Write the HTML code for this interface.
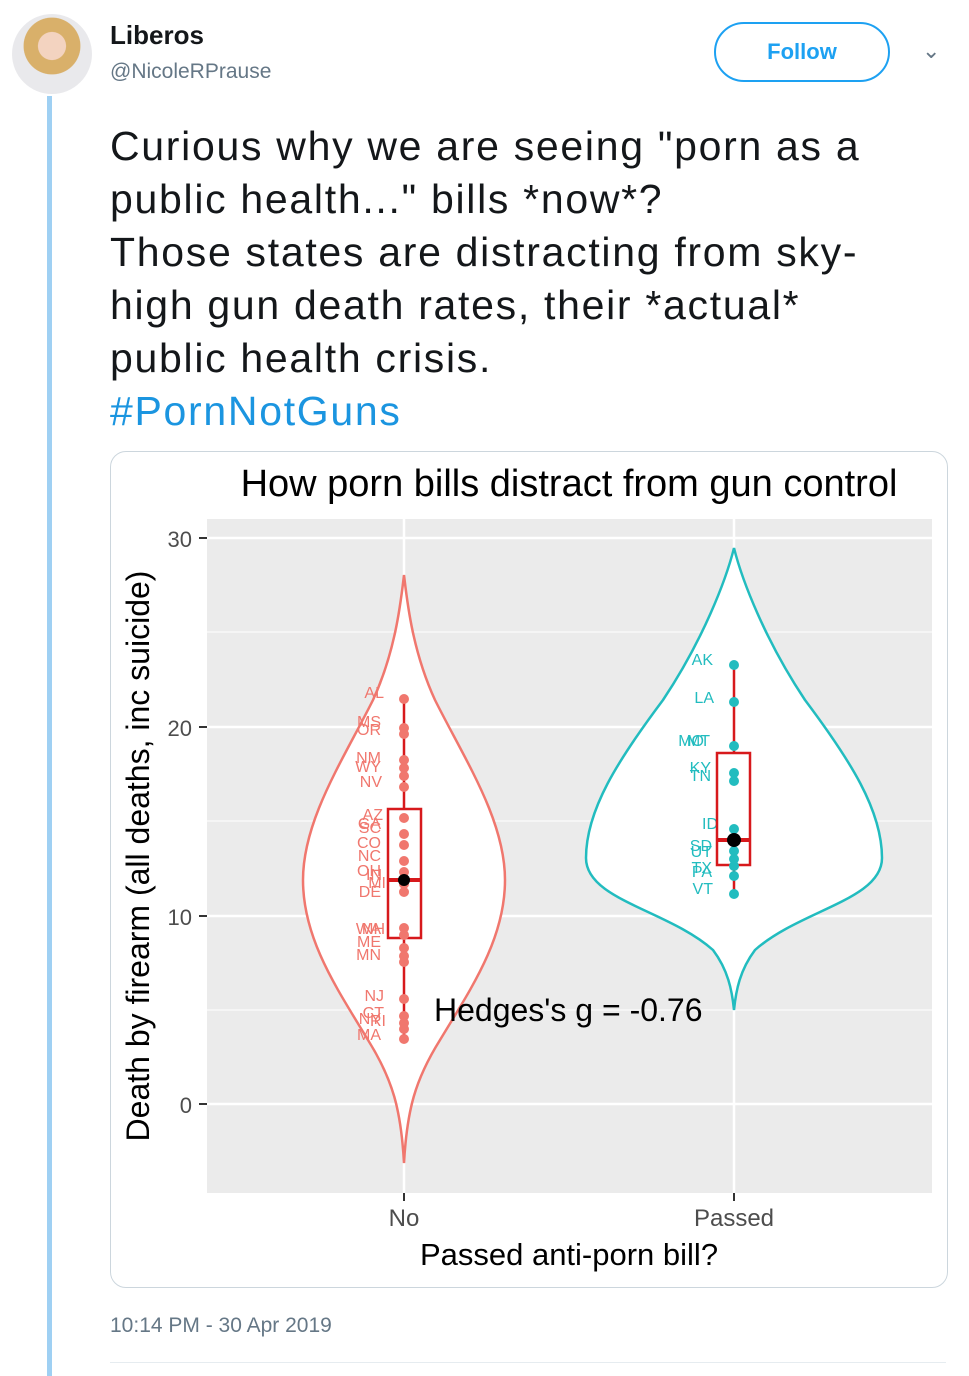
<!DOCTYPE html>
<html><head><meta charset="utf-8"><style>
body{margin:0;width:969px;height:1374px;background:#fff;font-family:"Liberation Sans",sans-serif;position:relative;overflow:hidden}
.a{position:absolute}
.tw{left:110px;font-size:41px;color:#14171a;line-height:53px;top:120px;letter-spacing:1.7px}
</style></head><body>
<div class="a" style="left:47px;top:96px;width:5px;height:1280px;background:#9fd0f3"></div>
<div class="a" style="left:12px;top:14px;width:80px;height:80px;border-radius:50%;background:radial-gradient(circle at 50% 40%,#f3d3c0 0 22%,#d9b06a 23% 45%,#e9e9ec 46%)"></div>
<div class="a" style="left:110px;top:20px;font-size:26px;font-weight:bold;color:#14171a">Liberos</div>
<div class="a" style="left:110px;top:60px;font-size:21px;color:#657786">@NicoleRPrause</div>
<div class="a" style="left:714px;top:22px;width:172px;height:56px;border:2px solid #1da1f2;border-radius:30px;color:#1da1f2;font-weight:bold;font-size:22px;text-align:center;line-height:56px">Follow</div>
<div class="a" style="left:922px;top:38px;font-size:22px;color:#657786">&#8964;</div>
<div class="a tw">Curious why we are seeing "porn as a<br>public health..." bills *now*?<br>Those states are distracting from sky-<br>high gun death rates, their *actual*<br>public health crisis.<br><span style="color:#1b95e0">#PornNotGuns</span></div>
<div class="a" style="left:110px;top:451px;width:836px;height:835px;border:1px solid #ccd6dd;border-radius:16px"></div>
<svg class="a" style="left:0;top:0" width="969" height="1374">
<text x="569" y="496" font-size="38" text-anchor="middle" fill="#000">How porn bills distract from gun control</text>
<rect x="207" y="519" width="725" height="674" fill="#ebebeb"/>
<g stroke="#fff" stroke-width="1"><line x1="207" x2="932" y1="632" y2="632"/><line x1="207" x2="932" y1="821" y2="821"/><line x1="207" x2="932" y1="1010" y2="1010"/></g>
<g stroke="#fff" stroke-width="2.5"><line x1="207" x2="932" y1="538" y2="538"/><line x1="207" x2="932" y1="727" y2="727"/><line x1="207" x2="932" y1="916" y2="916"/><line x1="207" x2="932" y1="1104" y2="1104"/><line x1="404" x2="404" y1="519" y2="1193"/><line x1="734" x2="734" y1="519" y2="1193"/></g>
<path d="M404,575 C407,600 412,650 435,700 C465,760 505,820 505,880 C505,940 470,990 440,1040 C415,1080 407,1110 404,1163 C401,1110 393,1080 368,1040 C338,990 303,940 303,880 C303,820 343,760 373,700 C396,650 401,600 404,575Z" fill="#fff" stroke="#f0776e" stroke-width="2.5"/>
<path d="M734,548 C742,580 765,640 805,700 C850,760 882,810 882,858 C882,900 800,910 755,950 C740,970 736,990 734,1010 C732,990 728,970 713,950 C668,910 586,900 586,858 C586,810 618,760 663,700 C703,640 726,580 734,548Z" fill="#fff" stroke="#22bcbf" stroke-width="2.5"/>
<g fill="#f0776e" font-size="16" text-anchor="end">
<text x="384" y="698">AL</text><text x="381" y="727">MS</text><text x="381" y="735">OR</text><text x="381" y="763">NM</text><text x="381" y="772">WY</text><text x="382" y="787">NV</text><text x="383" y="820">AZ</text><text x="381" y="829">GA</text><text x="381" y="833">SC</text><text x="381" y="848">CO</text><text x="381" y="861">NC</text><text x="381" y="876">OH</text><text x="386" y="888">MI</text><text x="382" y="880">IN</text><text x="381" y="897">DE</text><text x="385" y="934">NH</text><text x="381" y="934">WA</text><text x="381" y="947">ME</text><text x="381" y="960">MN</text><text x="384" y="1001">NJ</text><text x="384" y="1018">CT</text><text x="381" y="1024">NY</text><text x="386" y="1026">RI</text><text x="381" y="1040">MA</text>
</g>
<g fill="#22bcbf" font-size="16" text-anchor="end">
<text x="713" y="665">AK</text><text x="714" y="703">LA</text><text x="710" y="746">MT</text><text x="704" y="746">MO</text><text x="711" y="773">KY</text><text x="711" y="781">TN</text><text x="718" y="829">ID</text><text x="712" y="851">SD</text><text x="712" y="857">UT</text><text x="712" y="873">TX</text><text x="712" y="877">PA</text><text x="713" y="894">VT</text>
</g>
<g stroke="#d7191c" stroke-width="2.5" fill="none">
<line x1="404" x2="404" y1="699" y2="809"/><line x1="404" x2="404" y1="938" y2="1040"/>
<rect x="388" y="809" width="33" height="129"/><line x1="388" x2="421" y1="880" y2="880" stroke-width="4"/>
<line x1="734" x2="734" y1="665" y2="753"/><line x1="734" x2="734" y1="865" y2="895"/>
<rect x="717" y="753" width="33" height="112"/><line x1="717" x2="750" y1="840" y2="840" stroke-width="4"/>
</g>
<g fill="#f0776e">
<circle cx="404" cy="699" r="5"/><circle cx="404" cy="728" r="5"/><circle cx="404" cy="734" r="5"/><circle cx="404" cy="760" r="5"/><circle cx="404" cy="768" r="5"/><circle cx="404" cy="776" r="5"/><circle cx="404" cy="787" r="5"/><circle cx="404" cy="818" r="5"/><circle cx="404" cy="834" r="5"/><circle cx="404" cy="845" r="5"/><circle cx="404" cy="861" r="5"/><circle cx="404" cy="872" r="5"/><circle cx="404" cy="884" r="5"/><circle cx="404" cy="892" r="5"/><circle cx="404" cy="928" r="5"/><circle cx="404" cy="935" r="5"/><circle cx="404" cy="948" r="5"/><circle cx="404" cy="956" r="5"/><circle cx="404" cy="962" r="5"/><circle cx="404" cy="999" r="5"/><circle cx="404" cy="1016" r="5"/><circle cx="404" cy="1023" r="5"/><circle cx="404" cy="1029" r="5"/><circle cx="404" cy="1039" r="5"/>
</g>
<circle cx="404" cy="880" r="6" fill="#000"/>
<g fill="#22bcbf">
<circle cx="734" cy="665" r="5"/><circle cx="734" cy="702" r="5"/><circle cx="734" cy="746" r="5"/><circle cx="734" cy="773" r="5"/><circle cx="734" cy="781" r="5"/><circle cx="734" cy="829" r="5"/><circle cx="734" cy="851" r="5"/><circle cx="734" cy="859" r="5"/><circle cx="734" cy="866" r="5"/><circle cx="734" cy="876" r="5"/><circle cx="734" cy="894" r="5"/>
</g>
<circle cx="734" cy="840" r="7" fill="#000"/>
<text x="434" y="1021" font-size="32" fill="#000">Hedges's g = -0.76</text>
<g font-size="22" fill="#4d4d4d" text-anchor="end"><text x="192" y="547">30</text><text x="192" y="736">20</text><text x="192" y="925">10</text><text x="192" y="1113">0</text></g>
<g stroke="#333" stroke-width="2"><line x1="199" x2="207" y1="538" y2="538"/><line x1="199" x2="207" y1="727" y2="727"/><line x1="199" x2="207" y1="916" y2="916"/><line x1="199" x2="207" y1="1104" y2="1104"/><line x1="404" x2="404" y1="1193" y2="1201"/><line x1="734" x2="734" y1="1193" y2="1201"/></g>
<g font-size="24" fill="#4d4d4d" text-anchor="middle"><text x="404" y="1226">No</text><text x="734" y="1226">Passed</text></g>
<text x="569" y="1265" font-size="31" text-anchor="middle" fill="#000">Passed anti-porn bill?</text>
<text transform="translate(149,856) rotate(-90)" font-size="32" text-anchor="middle" fill="#000">Death by firearm (all deaths, inc suicide)</text>
</svg>
<div class="a" style="left:110px;top:1314px;font-size:21px;color:#657786">10:14 PM - 30 Apr 2019</div>
<div class="a" style="left:110px;top:1362px;width:836px;height:1px;background:#e6ecf0"></div>
</body></html>
